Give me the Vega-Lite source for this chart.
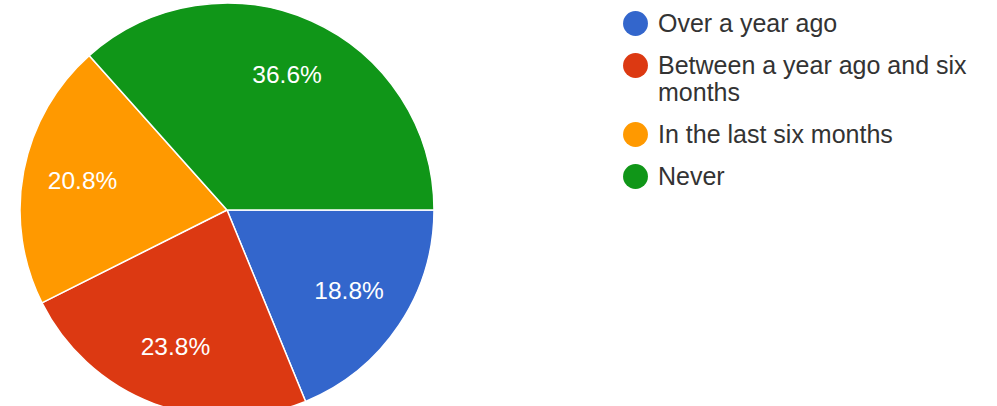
{
  "$schema": "https://vega.github.io/schema/vega-lite/v6.json",
  "width": 454,
  "height": 420,
  "padding": 0,
  "background": "white",
  "view": {"stroke": null},
  "data": {
    "values": [
      {"category": "Over a year ago", "value": 18.8, "label": "18.8%", "ord": 1},
      {"category": "Between a year ago and six months", "value": 23.8, "label": "23.8%", "ord": 2},
      {"category": "In the last six months", "value": 20.8, "label": "20.8%", "ord": 3},
      {"category": "Never", "value": 36.6, "label": "36.6%", "ord": 4}
    ]
  },
  "encoding": {
    "theta": {"field": "value", "type": "quantitative", "stack": true, "scale": {"range": [1.5707963, 7.8539816]}},
    "order": {"field": "ord", "type": "quantitative"},
    "color": {
      "field": "category",
      "type": "nominal",
      "sort": ["Over a year ago", "Between a year ago and six months", "In the last six months", "Never"],
      "scale": {
        "domain": ["Over a year ago", "Between a year ago and six months", "In the last six months", "Never"],
        "range": ["#3366cc", "#dc3912", "#ff9900", "#109618"]
      },
      "legend": {
        "title": null,
        "orient": "right",
        "offset": 158,
        "symbolType": "circle",
        "symbolSize": 620,
        "symbolStrokeWidth": 0,
        "labelFont": "Liberation Sans",
        "labelFontSize": 25,
        "labelColor": "#333333",
        "labelOffset": 10,
        "labelLimit": 400,
        "rowPadding": 16,
        "padding": 11,
        "labelExpr": "datum.label == 'Between a year ago and six months' ? ['Between a year ago and six', 'months'] : datum.label",
        "labelBaseline": "middle",
        "labelLineHeight": 27
      }
    }
  },
  "layer": [
    {
      "mark": {"type": "arc", "radius": 207, "stroke": "white", "strokeWidth": 1.5}
    },
    {
      "mark": {"type": "text", "radius": 147, "fill": "white", "font": "Liberation Sans", "fontSize": 24.5, "align": "center", "baseline": "middle"},
      "encoding": {
        "text": {"field": "label", "type": "nominal"},
        "color": {"value": "white"}
      }
    }
  ]
}
